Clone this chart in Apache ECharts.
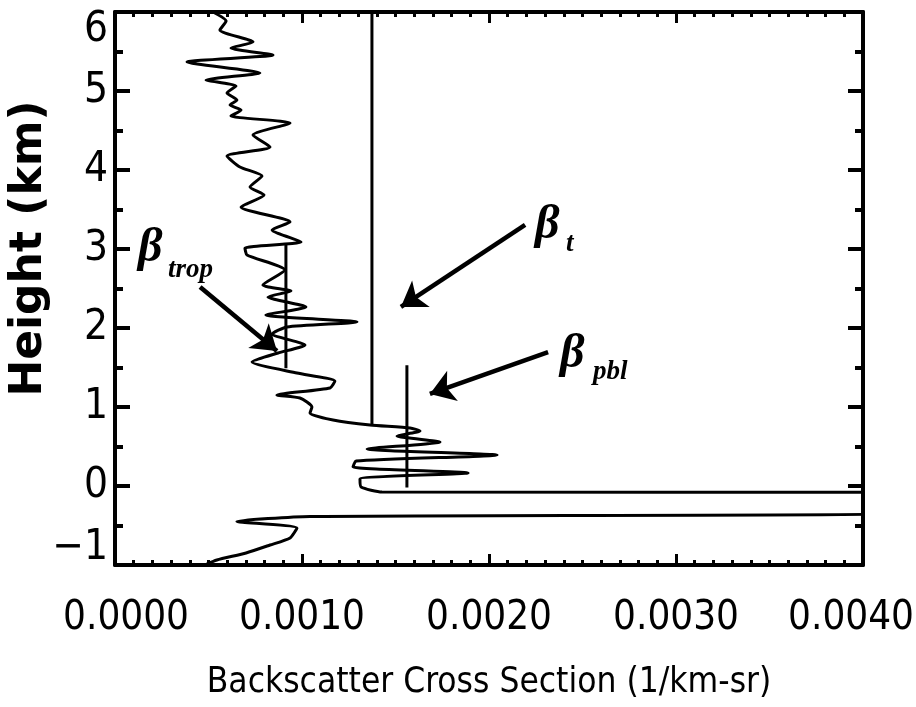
<!DOCTYPE html>
<html><head><meta charset="utf-8">
<script src="https://cdn.jsdelivr.net/npm/echarts@6/dist/echarts.min.js"></script>
<style>html,body{margin:0;padding:0;background:#fff}#c{width:916px;height:707px}</style>
</head><body><div id="c"></div><script>
// Backscatter profile (1/km-sr) vs height (km)
const profileBackscatter = [0.000524,0.000594,0.000561,0.000738,0.000620,0.000845,0.000385,0.000775,0.000487,0.000647,
  0.000599,0.000652,0.000615,0.000674,0.000620,0.000936,0.000738,0.000829,0.000599,0.000668,
  0.000786,0.000722,0.000797,0.000674,0.000936,0.000840,0.000995,0.000695,0.000706,0.000909,
  0.000791,0.000941,0.000818,0.001021,0.000807,0.001294,0.000920,0.000840,0.001016,0.000872,
  0.000733,0.000973,0.001176,0.001150,0.000866,0.000989,0.001053,0.001043,0.001166,0.001364,
  0.001578,0.001631,0.001508,0.001738,0.001348,0.002043,0.001289,0.001273,0.001888,0.001310,
  0.001316,0.001428,0.004600,0.004600,0.001043,0.000652,0.000973,0.000936,0.000829,0.000701,
  0.000545,0.000481];
const profileHeight = [6.0,5.886,5.772,5.620,5.544,5.456,5.367,5.228,5.139,5.063,
  4.975,4.886,4.823,4.759,4.684,4.595,4.443,4.291,4.177,4.038,
  3.924,3.785,3.684,3.532,3.342,3.241,3.089,3.013,2.924,2.734,
  2.544,2.468,2.392,2.266,2.165,2.076,2.013,1.924,1.785,1.684,
  1.570,1.430,1.329,1.241,1.152,1.114,1.000,0.924,0.835,0.772,
  0.734,0.696,0.633,0.557,0.468,0.392,0.316,0.241,0.165,0.089,
  -0.013,-0.076,-0.080,-0.323,-0.386,-0.449,-0.532,-0.658,-0.747,-0.848,
  -0.937,-1.0];
// Fitted constant values
const betaTX = [0.001374, 0.001374];   const betaTY = [6.0, 0.77];
const betaTropX = [0.000914, 0.000914]; const betaTropY = [3.05, 1.49];
const betaPblX = [0.001561, 0.001561]; const betaPblY = [1.53, -0.02];
// Annotation arrows (data coords)
const arrowStartX = [0.000455, 0.002193, 0.002316];
const arrowStartY = [2.519, 3.304, 1.696];
const arrowEndX = [0.000866, 0.001529, 0.001684];
const arrowEndY = [1.709, 2.266, 1.165];
// Annotation labels
const subscripts = ['trop', 't', 'pbl'];
const betaLabelX = [0.000123, 0.002246, 0.002380];
const betaLabelY = [3.00, 3.30, 1.66];
const subLabelX = [0.000283, 0.002412, 0.002556];
const subLabelY = [2.74, 3.06, 1.44];
// Axes
const xMin = 0, xMax = 0.004, xStep = 0.001;
const yMin = -1, yMax = 6, yStep = 1;
const xTitle = 'Backscatter Cross Section (1/km-sr)';
const yTitle = 'Height (km)';

const pairs = (xs, ys) => xs.map((x, i) => [x, ys[i]]);
const chart = echarts.init(document.getElementById('c'), null, {renderer: 'canvas'});
const tickFont = '"Liberation Sans Narrow","DejaVu Sans Condensed",sans-serif';
const frameLine = {show: true, onZero: false, lineStyle: {color: '#000', width: 4}};
const XF = 40;

function xAxisCfg(pos, labels) {
  return {
    type: 'value', position: pos, min: xMin, max: xMax, interval: xStep,
    axisLine: frameLine,
    axisTick: {show: true, inside: true, length: 11, lineStyle: {color: '#000', width: 3}},
    minorTick: {show: true, splitNumber: 10, length: 5, lineStyle: {color: '#000', width: 3}},
    splitLine: {show: false}, minorSplitLine: {show: false},
    axisLabel: labels ? {
      show: true, margin: 34, color: '#000', fontSize: XF, fontFamily: tickFont,
      formatter: v => {
        const s = v.toFixed(4);
        if (Math.abs(v - xMin) < 1e-9) return '{first|' + s + '}';
        if (Math.abs(v - xMax) < 1e-9) return '{last|' + s + '}';
        return s;
      },
      rich: {
        first: {fontSize: XF, fontFamily: tickFont, color: '#000', padding: [0, 0, 0, 22]},
        last: {fontSize: XF, fontFamily: tickFont, color: '#000', padding: [0, 24, 0, 0]}
      }
    } : {show: false},
    name: labels ? xTitle : '', nameLocation: 'middle', nameGap: 100, nameMoveOverlap: false,
    nameTextStyle: {color: '#000', fontSize: 35, fontFamily: tickFont}
  };
}
function yAxisCfg(pos, labels) {
  return {
    type: 'value', position: pos, min: yMin, max: yMax, interval: yStep,
    axisLine: frameLine,
    axisTick: {show: true, inside: true, length: 15, lineStyle: {color: '#000', width: 4}},
    minorTick: {show: true, splitNumber: 2, length: 8, lineStyle: {color: '#000', width: 4}},
    splitLine: {show: false}, minorSplitLine: {show: false},
    axisLabel: labels ? {
      show: true, margin: 7, color: '#000', fontSize: 42, fontFamily: tickFont,
      formatter: v => {
        const s = String(Math.round(v)).replace('-', '\u2212');
        if (v === yMax) return '{top|' + s + '}';
        if (v === yMin) return '{bot|' + s + '}';
        return s;
      },
      rich: {
        top: {fontSize: 42, fontFamily: tickFont, color: '#000', padding: [36, 0, 0, 0]},
        bot: {fontSize: 42, fontFamily: tickFont, color: '#000', padding: [0, 0, 34, 0]}
      }
    } : {show: false},
    name: labels ? yTitle : '', nameLocation: 'middle', nameGap: 63, nameRotate: 90, nameMoveOverlap: false,
    nameTextStyle: {color: '#000', fontSize: 44, fontWeight: 'bold', fontFamily: '"DejaVu Sans",sans-serif',
      padding: [0, 0, 0, 80]}
  };
}

chart.setOption({
  animation: false,
  backgroundColor: '#fff',
  grid: {left: 115, right: 53, top: 12, bottom: 142, containLabel: false, outerBoundsMode: 'none'},
  xAxis: [xAxisCfg('bottom', true), xAxisCfg('top', false)],
  yAxis: [yAxisCfg('left', true), yAxisCfg('right', false)],
  series: [
    {type: 'line', name: 'profile', data: pairs(profileBackscatter, profileHeight), showSymbol: false,
     smooth: 0.2, clip: true, lineStyle: {color: '#000', width: 3}, z: 3,
     markLine: {
       silent: true, symbol: ['none', 'arrow'], symbolSize: 24, precision: 6,
       itemStyle: {color: '#000'},
       label: {show: false}, lineStyle: {color: '#000', width: 4.5, type: 'solid'},
       data: arrowStartX.map((x, i) => [{coord: [x, arrowStartY[i]]}, {coord: [arrowEndX[i], arrowEndY[i]]}])
     }},
    {type: 'line', name: 'beta_t', data: pairs(betaTX, betaTY), showSymbol: false, lineStyle: {color: '#000', width: 3}},
    {type: 'line', name: 'beta_trop', data: pairs(betaTropX, betaTropY), showSymbol: false, lineStyle: {color: '#000', width: 3}},
    {type: 'line', name: 'beta_pbl', data: pairs(betaPblX, betaPblY), showSymbol: false, lineStyle: {color: '#000', width: 3}},
    {type: 'scatter', symbolSize: 0, silent: true, z: 5, itemStyle: {opacity: 1},
     data: betaLabelX.map((x, i) => ({value: [x, betaLabelY[i]], name: '\u03b2'})),
     label: {show: true, position: [0, 0], align: 'left', verticalAlign: 'middle', formatter: '{b}', opacity: 1,
       color: '#000', fontSize: 48, fontStyle: 'italic', fontWeight: 'bold', fontFamily: '"Liberation Serif",serif'}},
    {type: 'scatter', symbolSize: 0, silent: true, z: 5, itemStyle: {opacity: 1},
     data: subLabelX.map((x, i) => ({value: [x, subLabelY[i]], name: subscripts[i]})),
     label: {show: true, position: [0, 0], align: 'left', verticalAlign: 'middle', formatter: '{b}', opacity: 1,
       color: '#000', fontSize: 27, fontStyle: 'italic', fontWeight: 'bold', fontFamily: '"Liberation Serif",serif'}}
  ]
});
</script></body></html>
